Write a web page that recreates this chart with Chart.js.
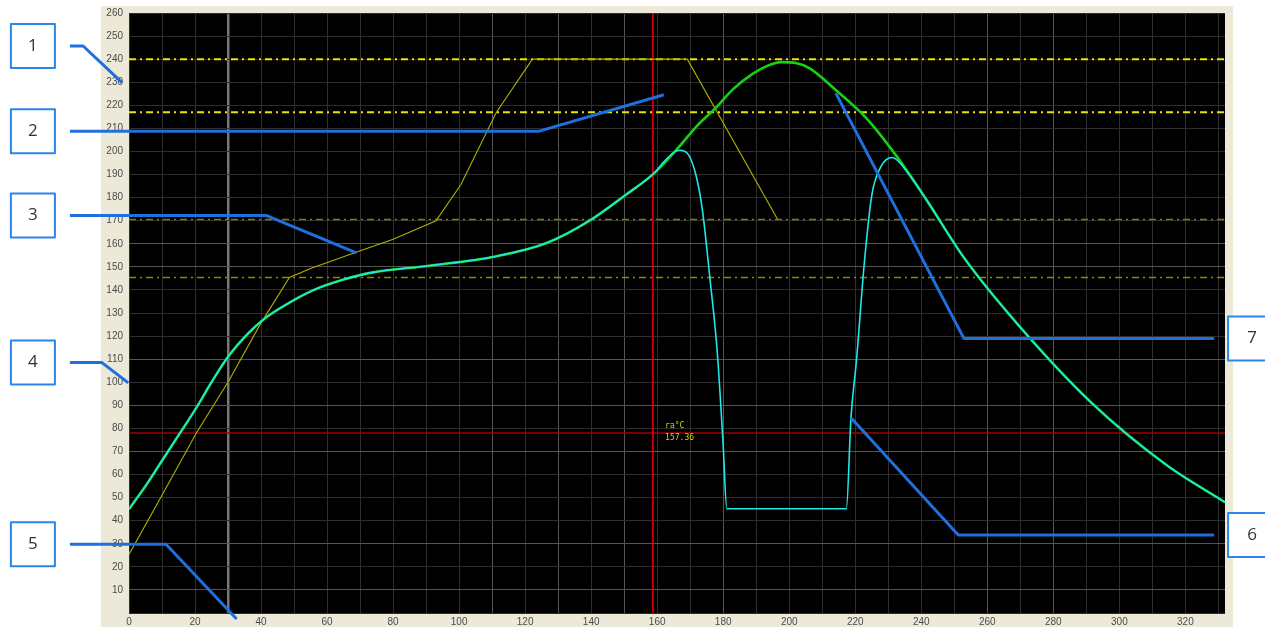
<!DOCTYPE html>
<html>
<head>
<meta charset="utf-8">
<script src="https://cdn.jsdelivr.net/npm/chart.js@4.4.1/dist/chart.umd.min.js"></script>
<style>
  html, body { margin: 0; padding: 0; background: #fff; }
  #wrap { width: 1265px; height: 627px; }
</style>
</head>
<body>
<div id="wrap"><canvas id="profile" width="1265" height="627"></canvas></div>
<script>
// axis ranges and ticks
const xMax = 332;
const yMax = 260;
const xTicks = [0, 10, 20, 30, 40, 50, 60, 70, 80, 90, 100, 110, 120, 130, 140, 150, 160, 170,
  180, 190, 200, 210, 220, 230, 240, 250, 260, 270, 280, 290, 300, 310, 320, 330];
const yTicks = [0, 10, 20, 30, 40, 50, 60, 70, 80, 90, 100, 110, 120, 130, 140, 150, 160, 170,
  180, 190, 200, 210, 220, 230, 240, 250, 260];
const xBrightGrid = [110, 130, 150, 180, 260, 280];
const xMarkGrid = 30;
const yBrightGrid = [10, 30, 70, 90, 110, 150, 160];

// setpoint profile (thin yellow)
const setX = [0, 10, 20.4, 30.2, 39.9, 48.6, 55, 69, 80, 93, 100.5, 111.3, 122.2, 169.1, 196.5];
const setY = [25.4, 51, 78, 100.5, 125.5, 145.4, 149.3, 156.4, 162, 170, 185.6, 217, 240, 240, 170.5];

// top sensor (green)
const topX = [0, 5, 10, 15, 20, 25, 30, 36, 41, 48, 56, 65, 73.5, 91, 111, 126.5, 139.5, 150.3, 159,
  166, 172, 177.6, 183, 189, 193.5, 197.6, 202, 206.2, 214.1, 223.2, 232.4, 241.5, 252.9, 268.9,
  291.7, 314.4, 332];
const topY = [45, 55, 66, 77, 88, 100, 111, 121, 127.5, 134, 140, 144.5, 147.5, 150.5, 154.5, 160.3,
  170, 181, 190.5, 201, 211, 218.7, 227, 233.7, 237.2, 238.7, 238.3, 236, 226.6, 214.7, 198.2, 179.2,
  154, 125.6, 90.9, 64, 48];

// bottom sensor (cyan)
const botX = [0, 5, 10, 15, 20, 25, 30, 36, 41, 48, 56, 65, 73.5, 91, 111, 126.5, 139.5, 150.3, 159,
  162, 165, 166.8, 169.5, 171.9, 173.7, 175.9, 178.2, 179.9, 181.1, 217.3, 218.7, 220.4, 222.7, 225,
  227.8, 231.2, 235.8, 241.5, 252.9, 268.9, 291.7, 314.4, 332];
const botY = [45, 55, 66, 77, 88, 100, 111, 121, 127.5, 134, 140, 144.5, 147.5, 150.5, 154.5, 160.3,
  170, 181, 190.5, 195.5, 199.5, 200.5, 198.5, 188.8, 174.6, 146, 113, 75, 45.2, 45.2, 84.6, 110, 151,
  181, 193.5, 197.4, 191, 179.2, 154, 125.6, 90.9, 64, 48];

// limit lines (dash-dot)
const limitLevels = [240, 217, 170.5, 145.4];
const limitColors = ['#e6e600', '#e6e600', '#7d7d00', '#8a8a00'];

// cursor
const cursorX = 158.7;
const cursorY = 78;
const cursorText = ['ra°C', '157.36'];
const cursorTextX = 162.4;
const cursorTextY = [81.2, 76];

// numbered callouts, path in axis units starting at the box
const calloutLabels = ['1', '2', '3', '4', '5', '6', '7'];
const calloutPaths = [
  [[-17.9, 245.7], [-13.9, 245.7], [-2.1, 229.8]],
  [[-17.9, 208.8], [124.3, 208.8], [162, 224.6]],
  [[-17.9, 172.3], [41.5, 172.3], [68.9, 156.1]],
  [[-17.9, 108.6], [-8.3, 108.6], [-0.2, 99.7]],
  [[-17.9, 29.8], [11.2, 29.8], [32.6, -2.6]],
  [[328.7, 33.8], [251.2, 33.8], [218.7, 84.6]],
  [[328.7, 119], [252.9, 119], [214.1, 225.3]]
];

const toPoints = (xs, ys) => xs.map((v, i) => ({ x: v, y: ys[i] }));

const datasets = [
  {
    data: toPoints(botX, botY), borderColor: '#1ee8e8', borderWidth: 1.6,
    cubicInterpolationMode: 'monotone', order: 0
  },
  {
    data: toPoints(topX, topY), borderColor: '#14d214', borderWidth: 2.6,
    cubicInterpolationMode: 'monotone', order: 1
  },
  {
    data: toPoints(setX, setY), borderColor: '#b0b000', borderWidth: 1.1,
    tension: 0, order: 2
  }
];

limitLevels.forEach((lv, i) => {
  datasets.push({
    data: [{ x: 0, y: lv }, { x: xMax, y: lv }],
    borderColor: limitColors[i], borderWidth: i < 2 ? 2 : 1.6,
    borderDash: [7, 4, 2, 4], tension: 0, order: 3
  });
});

datasets.push({
  data: [{ x: cursorX, y: 0 }, { x: cursorX, y: yMax }],
  borderColor: '#e80000', borderWidth: 1.6, tension: 0, order: 4
});
datasets.push({
  data: [{ x: 0, y: cursorY }, { x: xMax, y: cursorY }],
  borderColor: '#a00000', borderWidth: 1.6, tension: 0, order: 4
});

const panelPlugin = {
  id: 'panel',
  beforeDraw(chart) {
    const { ctx, chartArea: a } = chart;
    ctx.save();
    ctx.fillStyle = '#ffffff';
    ctx.fillRect(0, 0, chart.width, chart.height);
    ctx.fillStyle = '#ece9d8';
    ctx.fillRect(a.left - 28, a.top - 7, a.right - a.left + 36, chart.height - a.top + 7);
    ctx.fillStyle = '#000000';
    ctx.fillRect(a.left, a.top, a.right - a.left, a.bottom - a.top);
    ctx.restore();
  },
  afterDatasetsDraw(chart) {
    const { ctx, scales: { x, y } } = chart;
    ctx.save();
    ctx.fillStyle = '#d4d400';
    ctx.font = '8px "DejaVu Sans Mono"';
    ctx.textBaseline = 'middle';
    cursorText.forEach((t, i) => {
      ctx.fillText(t, x.getPixelForValue(cursorTextX), y.getPixelForValue(cursorTextY[i]));
    });
    ctx.restore();
  }
};

const calloutPlugin = {
  id: 'callouts',
  afterDraw(chart) {
    const { ctx, scales: { x, y } } = chart;
    ctx.save();
    calloutPaths.forEach((path, i) => {
      ctx.strokeStyle = '#1f6fdc';
      ctx.lineWidth = 3;
      ctx.lineJoin = 'round';
      ctx.beginPath();
      path.forEach(([vx, vy], j) => {
        const px = x.getPixelForValue(vx);
        const py = y.getPixelForValue(vy);
        if (j === 0) ctx.moveTo(px, py); else ctx.lineTo(px, py);
      });
      ctx.stroke();

      // box next to the free end
      const sx = x.getPixelForValue(path[0][0]);
      const sy = y.getPixelForValue(path[0][1]);
      const onLeft = path[0][0] < 0;
      const size = 44;
      const bx = onLeft ? sx - 15 - size : sx + 14;
      const bw = onLeft ? size : 48;
      ctx.fillStyle = '#ffffff';
      ctx.fillRect(bx, sy - size / 2, bw, size);
      ctx.strokeStyle = '#2a86ea';
      ctx.lineWidth = 2;
      ctx.strokeRect(bx, sy - size / 2, bw, size);
      ctx.fillStyle = '#333333';
      ctx.font = '17px "Open Sans"';
      ctx.textAlign = 'center';
      ctx.textBaseline = 'middle';
      ctx.fillText(calloutLabels[i], bx + bw / 2, sy);
    });
    ctx.restore();
  }
};

const tickFont = { family: '"Liberation Sans", Arial', size: 10 };

new Chart(document.getElementById('profile'), {
  type: 'line',
  data: { datasets },
  options: {
    responsive: false,
    animation: false,
    events: [],
    layout: { padding: { top: 13, right: 40, left: 0, bottom: 0 } },
    plugins: { legend: { display: false }, tooltip: { enabled: false } },
    elements: { point: { radius: 0 } },
    scales: {
      x: {
        type: 'linear',
        min: 0,
        max: xMax,
        afterBuildTicks: s => { s.ticks = xTicks.map(v => ({ value: v })); },
        afterFit: s => { s.height = 14; },
        ticks: {
          autoSkip: false,
          maxRotation: 0,
          padding: 3,
          color: '#4a4a4a',
          font: tickFont,
          callback: v => (v % 20 === 0 ? v : '')
        },
        grid: {
          drawTicks: false,
          color: c => {
            const v = c.tick ? c.tick.value : -1;
            if (v === xMarkGrid) return '#777777';
            return xBrightGrid.includes(v) ? '#555555' : '#2e2e2e';
          },
          lineWidth: c => (c.tick && c.tick.value === xMarkGrid ? 2.5 : 1)
        },
        border: { display: false }
      },
      y: {
        type: 'linear',
        min: 0,
        max: yMax,
        afterBuildTicks: s => { s.ticks = yTicks.map(v => ({ value: v })); },
        afterFit: s => { s.width = 129; },
        ticks: {
          autoSkip: false,
          padding: 6,
          color: '#4a4a4a',
          font: tickFont,
          callback: v => (v === 0 ? '' : v)
        },
        grid: {
          drawTicks: false,
          color: c => (c.tick && yBrightGrid.includes(c.tick.value) ? '#555555' : '#2e2e2e')
        },
        border: { display: false }
      }
    }
  },
  plugins: [panelPlugin, calloutPlugin]
});
</script>
</body>
</html>
